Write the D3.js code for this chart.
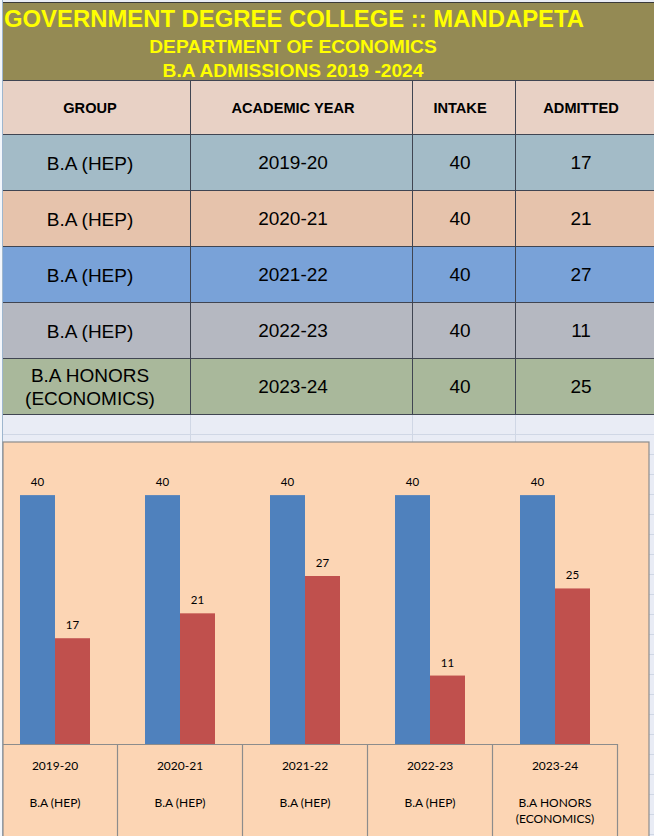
<!DOCTYPE html>
<html><head><meta charset="utf-8">
<script src="https://cdn.jsdelivr.net/npm/d3@7"></script>
<style>
html,body{margin:0;padding:0;background:#fff;overflow:hidden;}
svg{display:block;}
</style></head>
<body>
<svg id="c" width="654" height="836"></svg>
<script>
// ---- data ----
const titleLines = ["GOVERNMENT DEGREE COLLEGE :: MANDAPETA", "DEPARTMENT OF ECONOMICS", "B.A ADMISSIONS 2019 -2024"];
const headers = ["GROUP", "ACADEMIC YEAR", "INTAKE", "ADMITTED"];
const groups = ["B.A (HEP)", "B.A (HEP)", "B.A (HEP)", "B.A (HEP)", "B.A HONORS|(ECONOMICS)"];
const years = ["2019-20", "2020-21", "2021-22", "2022-23", "2023-24"];
const intake = [40, 40, 40, 40, 40];
const admitted = [17, 21, 27, 11, 25];
const seriesNames = ["Intake", "Admitted"];

// ---- styles ----
const rowColors = ["#A3BBC7", "#E6C3AC", "#79A2D8", "#B5B8C1", "#A9B89B"];
const seriesColors = ["#4F81BD", "#C0504D"];
const colEdges = [3, 191, 413, 516, 654];
const colCenters = [90, 293, 460, 581];

const svg = d3.select("#c");

// spreadsheet background
svg.append("rect").attr("x",0).attr("y",0).attr("width",654).attr("height",836).attr("fill","#E9ECF5");
const gridYs = [434, 454, 474, 494, 514, 534, 554, 574, 594, 614, 634, 654, 674, 694, 714, 734, 754, 774, 794, 814, 834];
svg.append("g").selectAll("line").data(gridYs).join("line")
  .attr("x1",0).attr("x2",654).attr("y1",d=>d+0.5).attr("y2",d=>d+0.5)
  .attr("stroke","#D0D7E5");
svg.append("g").selectAll("line").data(colEdges.slice(1,4)).join("line")
  .attr("x1",d=>d-0.5).attr("x2",d=>d-0.5).attr("y1",414).attr("y2",442)
  .attr("stroke","#D0D7E5");
// row header strip
svg.append("rect").attr("x",0).attr("y",0).attr("width",3).attr("height",836).attr("fill","#F3F6FB");
svg.append("line").attr("x1",2.5).attr("x2",2.5).attr("y1",0).attr("y2",836).attr("stroke","#9EB6CE");

// ---- title band ----
svg.append("rect").attr("x",3).attr("y",2).attr("width",651).attr("height",78).attr("fill","#948A54");
svg.append("line").attr("x1",3).attr("x2",654).attr("y1",2.5).attr("y2",2.5).attr("stroke","#3a3a3a");
const title = svg.append("g").attr("font-family","'Liberation Sans', Arial, sans-serif").attr("font-weight","bold").attr("fill","#FFFF00");
title.append("text").attr("x",4).attr("y",27).attr("font-size",23.5).attr("textLength",580).attr("lengthAdjust","spacingAndGlyphs").text(titleLines[0]);
title.append("text").attr("x",293).attr("y",53).attr("text-anchor","middle").attr("font-size",19.2).text(titleLines[1]);
title.append("text").attr("x",293).attr("y",77).attr("text-anchor","middle").attr("font-size",19.2).text(titleLines[2]);

// ---- table ----
const hdrTop = 80, hdrBot = 134;
const rowScale = d3.scaleBand().domain(years).range([134, 414]);

svg.append("rect").attr("x",3).attr("y",hdrTop).attr("width",651).attr("height",hdrBot-hdrTop).attr("fill","#E8D1C5");
svg.append("g").selectAll("text").data(headers).join("text")
  .attr("x",(d,i)=>colCenters[i]).attr("y",(hdrTop+hdrBot)/2+5.5)
  .attr("text-anchor","middle").attr("font-family","'Liberation Sans', Arial, sans-serif")
  .attr("font-weight","bold").attr("font-size",14.6).attr("fill","#000").text(d=>d);

const rows = svg.append("g").selectAll("g").data(years).join("g")
  .attr("transform",d=>`translate(0,${rowScale(d)})`);
rows.append("rect").attr("x",3).attr("y",0).attr("width",651).attr("height",rowScale.bandwidth())
  .attr("fill",(d,i)=>rowColors[i]);
const bodyFont = "'Liberation Sans', Arial, sans-serif";
rows.each(function(d,i){
  const g = d3.select(this);
  const h = rowScale.bandwidth();
  const parts = groups[i].split("|");
  parts.forEach((p,j)=>{
    g.append("text").attr("x",colCenters[0])
      .attr("y", h/2 + 7.5 + (j - (parts.length-1)/2)*23)
      .attr("text-anchor","middle").attr("font-family",bodyFont).attr("font-size",19).text(p);
  });
  const vals = [years[i], intake[i], admitted[i]];
  vals.forEach((v,k)=>{
    g.append("text").attr("x",colCenters[k+1]).attr("y",h/2+7)
      .attr("text-anchor","middle").attr("font-family",bodyFont).attr("font-size",19).text(v);
  });
});
// table grid lines
const hLines = [hdrTop, hdrBot].concat(years.map(y=>rowScale(y)+rowScale.bandwidth()));
svg.append("g").selectAll("line").data(hLines).join("line")
  .attr("x1",3).attr("x2",654).attr("y1",d=>d+0.5).attr("y2",d=>d+0.5).attr("stroke","#404552");
svg.append("g").selectAll("line").data(colEdges.slice(1,4)).join("line")
  .attr("x1",d=>d-0.5).attr("x2",d=>d-0.5).attr("y1",hdrTop).attr("y2",414).attr("stroke","#404552");

// ---- chart ----
const chartTop = 442, chartRight = 649;
svg.append("rect").attr("x",3).attr("y",chartTop).attr("width",chartRight-3).attr("height",836-chartTop+5)
  .attr("fill","#FCD5B4").attr("stroke","#8C8C8C").attr("stroke-width",1.2);

const x0 = d3.scaleBand().domain(years).range([-7.5, 617.5]).paddingInner(0.44).paddingOuter(0.22);
const x1 = d3.scaleBand().domain(seriesNames).range([0, x0.bandwidth()]);
const y = d3.scaleLinear().domain([0, 45]).range([744, 464]);
const step = x0.step();

const data = years.map((yr,i)=>({year:yr, values:[intake[i], admitted[i]]}));
const plot = svg.append("g");
const grp = plot.selectAll("g").data(data).join("g").attr("transform",d=>`translate(${x0(d.year)},0)`);
grp.selectAll("rect").data(d=>d.values.map((v,k)=>({s:seriesNames[k],v,k}))).join("rect")
  .attr("x",d=>x1(d.s)).attr("width",x1.bandwidth())
  .attr("y",d=>y(d.v)).attr("height",d=>y(0)-y(d.v))
  .attr("fill",d=>seriesColors[d.k]);
grp.selectAll("text").data(d=>d.values.map((v,k)=>({s:seriesNames[k],v,k}))).join("text")
  .attr("x",d=>x1(d.s)+x1.bandwidth()/2).attr("y",d=>y(d.v)-9)
  .attr("text-anchor","middle").attr("font-family","Lato, 'Open Sans', sans-serif").attr("font-size",11.5)
  .attr("fill","#000").text(d=>d.v);

// category axis as cells
const axisG = svg.append("g");
axisG.append("line").attr("x1",3).attr("x2",x0.range()[1]).attr("y1",y(0)+0.5).attr("y2",y(0)+0.5).attr("stroke","#8C8C8C").attr("stroke-width",1.2);
axisG.selectAll("line.cell").data(years).join("line").attr("class","cell")
  .attr("x1",d=>x0(d)-step*0.22+step).attr("x2",d=>x0(d)-step*0.22+step)
  .attr("y1",y(0)).attr("y2",836).attr("stroke","#8C8C8C").attr("stroke-width",1.2);
const lab = axisG.selectAll("g.lab").data(years).join("g").attr("class","lab")
  .attr("transform",d=>`translate(${x0(d)+x0.bandwidth()/2},0)`);
lab.append("text").attr("y",770).attr("text-anchor","middle").attr("font-family","Lato, 'Open Sans', sans-serif")
  .attr("font-size",12).attr("fill","#000").text(d=>d);
lab.each(function(d,i){
  const parts = groups[i].split("|");
  parts.forEach((p,j)=>{
    d3.select(this).append("text").attr("y",807+j*16).attr("text-anchor","middle")
      .attr("font-family","Lato, 'Open Sans', sans-serif").attr("font-size",12).attr("fill","#000").text(p);
  });
});
</script>
</body></html>
